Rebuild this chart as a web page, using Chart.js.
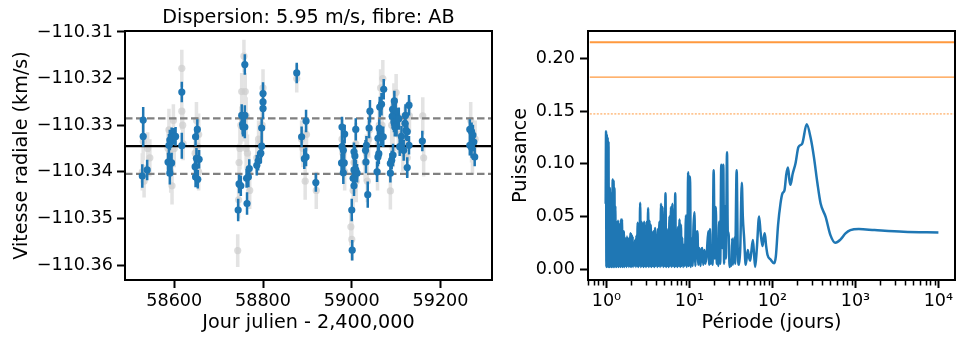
<!DOCTYPE html>
<html lang="fr">
<head>
<meta charset="utf-8">
<script src="https://cdn.jsdelivr.net/npm/chart.js@4.4.1/dist/chart.umd.min.js"></script>
<style>
  body { margin: 0; background: #fff; }
  #wrap { position: relative; width: 958px; height: 338px; font-family: 'DejaVu Sans', sans-serif; }
  #c-vr { position: absolute; left: 0; top: 0; }
  #c-per { position: absolute; left: 500px; top: 0; }
  #titre { position: absolute; left: 125px; width: 367px; top: 5px; text-align: center; font-size: 19.2px; line-height: 24px; color: #000; }
</style>
</head>
<body>
<div id="wrap">
  <canvas id="c-vr" width="500" height="338"></canvas>
  <canvas id="c-per" width="458" height="338"></canvas>
  <div id="titre">Dispersion: 5.95 m/s, fibre: AB</div>
</div>
<script>
// vitesses radiales (fibre AB), jour julien - 2400000
const jours = [
  58530, 58530, 58528, 58539,
  58586, 58590, 58594, 58598, 58588, 58590, 58594, 58590, 58603, 58617, 58617,
  58648, 58652, 58647, 58650, 58656, 58648, 58653,
  58744, 58746, 58750, 58752, 58759, 58755, 58759, 58754, 58759, 58763, 58764, 58767, 58769,
  58786, 58789, 58795, 58797, 58797, 58800, 58800, 58800,
  58876, 58887, 58897, 58897, 58893, 58919,
  58978, 58984, 58978, 58981, 58977, 58983, 58981,
  59000, 59001, 59005, 59007, 59009, 59005, 59009, 59003, 59007, 59005, 59012,
  59031, 59033, 59032, 59036, 59039, 59041,
  59057, 59059, 59061, 59059, 59066, 59071, 59062, 59063, 59067, 59072,
  59087, 59087, 59090, 59093, 59092, 59095, 59099, 59091, 59095, 59101, 59097, 59096,
  59106, 59112, 59108, 59117, 59120, 59122, 59125, 59121, 59125, 59129, 59129,
  59159,
  59266, 59270, 59273, 59275, 59270, 59277, 59266
];
const vitesses = [
  -110.3289, -110.3324, -110.3409, -110.3396,
  -110.3379, -110.3332, -110.3325, -110.3324, -110.3343, -110.3382, -110.3381, -110.3403, -110.3324, -110.3229, -110.3344,
  -110.3325, -110.3309, -110.3389, -110.3371, -110.3373, -110.3411, -110.3416,
  -110.3482, -110.3426, -110.3430, -110.3279, -110.3279, -110.3304, -110.3304, -110.3298, -110.3170, -110.3414, -110.3468, -110.3411, -110.3393,
  -110.3386, -110.3377, -110.3360, -110.3345, -110.3306, -110.3264, -110.3250, -110.3232,
  -110.3188, -110.3325, -110.3291, -110.3368, -110.3372, -110.3423,
  -110.3304, -110.3319, -110.3346, -110.3354, -110.3381, -110.3381, -110.3402,
  -110.3482, -110.3568, -110.3357, -110.3366, -110.3309, -110.3396, -110.3396, -110.3414, -110.3411, -110.3430, -110.3403,
  -110.3354, -110.3343, -110.3379, -110.3449, -110.3306, -110.3270,
  -110.3400, -110.3368, -110.3361, -110.3328, -110.3325, -110.3325, -110.3307, -110.3261, -110.3255, -110.3223,
  -110.3403, -110.3382, -110.3375, -110.3364, -110.3266, -110.3271, -110.3270, -110.3281, -110.3293, -110.3300, -110.3304, -110.3248,
  -110.3286, -110.3324, -110.3346, -110.3354, -110.3296, -110.3311, -110.3314, -110.3279, -110.3391, -110.3257, -110.3343,
  -110.3334,
  -110.3309, -110.3314, -110.3321, -110.3336, -110.3348, -110.3368, -110.3343
];
const erreurs = [
  0.0028, 0.0022, 0.0025, 0.0022,
  0.0020, 0.0022, 0.0020, 0.0018, 0.0024, 0.0020, 0.0022, 0.0024, 0.0020, 0.0022, 0.0028,
  0.0020, 0.0022, 0.0020, 0.0022, 0.0020, 0.0022, 0.0020,
  0.0024, 0.0020, 0.0022, 0.0024, 0.0022, 0.0020, 0.0024, 0.0022, 0.0022, 0.0020, 0.0024, 0.0022, 0.0020,
  0.0022, 0.0020, 0.0022, 0.0024, 0.0020, 0.0022, 0.0020, 0.0024,
  0.0022, 0.0022, 0.0024, 0.0020, 0.0022, 0.0020,
  0.0022, 0.0020, 0.0024, 0.0022, 0.0020, 0.0022, 0.0024,
  0.0024, 0.0022, 0.0020, 0.0022, 0.0024, 0.0020, 0.0022, 0.0020, 0.0024, 0.0022, 0.0020,
  0.0022, 0.0020, 0.0024, 0.0028, 0.0022, 0.0024,
  0.0022, 0.0020, 0.0022, 0.0024, 0.0020, 0.0022, 0.0020, 0.0022, 0.0024, 0.0022,
  0.0020, 0.0022, 0.0020, 0.0024, 0.0022, 0.0020, 0.0022, 0.0020, 0.0022, 0.0024, 0.0020, 0.0022,
  0.0024, 0.0022, 0.0020, 0.0022, 0.0020, 0.0022, 0.0020, 0.0024, 0.0022, 0.0022, 0.0020,
  0.0022,
  0.0022, 0.0020, 0.0022, 0.0020, 0.0022, 0.0020, 0.0022
];

// mesures en gris (arrière-plan)
const joursGris = [
  58530, 58532, 58545, 58588, 58590, 58592, 58595, 58598, 58617, 58617, 58619,
  58650, 58652, 58655, 58743, 58745, 58748, 58752, 58757, 58760, 58762, 58765, 58770,
  58790, 58798, 58800, 58876, 58890, 58895, 58898, 58920,
  58978, 58982, 58998, 59000, 59003, 59007, 59010, 59030, 59035, 59040,
  59058, 59062, 59065, 59070, 59087, 59090, 59095, 59100, 59110, 59120, 59125, 59130,
  59160, 59162, 59268, 59272, 59278,
  58528, 58540, 58586, 58594, 58600, 58620, 58647, 58655, 58746, 58750,
  58755, 58762, 58768, 58786, 58795, 58887, 58980, 58984, 59005, 59009,
  59033, 59038, 59060, 59068, 59093, 59098, 59105, 59115, 59122, 59270
];
const vitessesGris = [
  -110.3335, -110.3420, -110.3370, -110.3310, -110.3360, -110.3400, -110.3430, -110.3290, -110.3178, -110.3270, -110.3300,
  -110.3290, -110.3345, -110.3400, -110.3569, -110.3460, -110.3350, -110.3228, -110.3152, -110.3228, -110.3350, -110.3360, -110.3440,
  -110.3330, -110.3300, -110.3220, -110.3200, -110.3350, -110.3420, -110.3320, -110.3440,
  -110.3330, -110.3380, -110.3518, -110.3545, -110.3440, -110.3380, -110.3420, -110.3380, -110.3420, -110.3310,
  -110.3400, -110.3300, -110.3220, -110.3200, -110.3441, -110.3300, -110.3250, -110.3230, -110.3320, -110.3300, -110.3370, -110.3280,
  -110.3280, -110.3370, -110.3290, -110.3360, -110.3330,
  -110.3400, -110.3350, -110.3350, -110.3380, -110.3350, -110.3340, -110.3360, -110.3320, -110.3380, -110.3300,
  -110.3290, -110.3280, -110.3400, -110.3370, -110.3340, -110.3330, -110.3360, -110.3400, -110.3380, -110.3340,
  -110.3360, -110.3330, -110.3340, -110.3300, -110.3350, -110.3280, -110.3320, -110.3360, -110.3330, -110.3340
];
const erreursGris = [
  0.0040, 0.0035, 0.0040, 0.0045, 0.0040, 0.0045, 0.0040, 0.0035, 0.0040, 0.0040, 0.0035,
  0.0040, 0.0045, 0.0040, 0.0035, 0.0040, 0.0045, 0.0040, 0.0035, 0.0040, 0.0045, 0.0040, 0.0040,
  0.0040, 0.0035, 0.0040, 0.0030, 0.0040, 0.0040, 0.0035, 0.0040,
  0.0045, 0.0040, 0.0040, 0.0045, 0.0040, 0.0040, 0.0045, 0.0040, 0.0045, 0.0040,
  0.0040, 0.0045, 0.0040, 0.0040, 0.0040, 0.0045, 0.0040, 0.0040, 0.0045, 0.0040, 0.0040, 0.0035,
  0.0040, 0.0040, 0.0040, 0.0045, 0.0040,
  0.0040, 0.0035, 0.0045, 0.0040, 0.0040, 0.0035, 0.0040, 0.0045, 0.0040, 0.0040,
  0.0045, 0.0040, 0.0040, 0.0035, 0.0040, 0.0040, 0.0045, 0.0040, 0.0040, 0.0045,
  0.0040, 0.0040, 0.0045, 0.0040, 0.0040, 0.0045, 0.0040, 0.0040, 0.0035, 0.0040
];

const moyenne = -110.3345;
const dispersion = 0.00595;
const ticksJours = [58600, 58800, 59000, 59200];
const ticksVitesse = [-110.36, -110.35, -110.34, -110.33, -110.32, -110.31];

// périodogramme
const periodes = [
  0.98, 0.99, 1.0, 1.01, 1.02, 1.035, 1.05, 1.06, 1.07, 1.08,
  1.09, 1.10, 1.115, 1.13, 1.145, 1.16, 1.175, 1.19, 1.205, 1.22,
  1.235, 1.25, 1.265, 1.28, 1.295, 1.31, 1.325, 1.34, 1.36, 1.38,
  1.40, 1.42, 1.44, 1.46, 1.48, 1.50, 1.52, 1.54, 1.56, 1.58,
  1.60, 1.62, 1.645, 1.67, 1.695, 1.72, 1.745, 1.77, 1.80, 1.83,
  1.86, 1.89, 1.92, 1.95, 1.98, 2.01, 2.04, 2.07, 2.10, 2.14,
  2.18, 2.22, 2.26, 2.30, 2.34, 2.38, 2.42, 2.46, 2.50, 2.55,
  2.60, 2.65, 2.70, 2.75, 2.80, 2.85, 2.90, 2.95, 3.0, 3.06,
  3.12, 3.18, 3.24, 3.30, 3.36, 3.42, 3.48, 3.55, 3.62, 3.70,
  3.78, 3.86, 3.94, 4.02, 4.10, 4.18, 4.26, 4.35, 4.45, 4.55,
  4.65, 4.75, 4.85, 4.95, 5.05, 5.15, 5.25, 5.35, 5.45, 5.55,
  5.65, 5.75, 5.87, 6.0, 6.12, 6.24, 6.36, 6.5, 6.62, 6.75,
  6.88, 7.02, 7.16, 7.3, 7.45, 7.6, 7.75, 7.9, 8.05, 8.2,
  8.4, 8.6, 8.8, 9.1, 9.3, 9.5, 9.65, 9.8, 10.0, 10.2,
  10.4, 10.7, 10.9, 11.2, 11.5, 11.8, 12.1, 12.5, 12.8, 13.2,
  13.6, 14.0, 14.3, 14.7, 15.2, 15.6, 16.2, 16.9, 17.3, 17.7,
  18.1, 18.5, 19.0, 19.6, 20.2, 20.8, 21.3, 21.8, 22.3, 22.8,
  23.5, 24.2, 24.9, 25.6, 26.2, 26.7, 27.5, 28.4, 29.0, 29.6,
  30.5, 31.5, 32.2, 32.8, 33.5, 34.8, 35.5, 37.1, 38.2, 39.5,
  41.0, 42.8, 44.0, 45.6, 47.7, 50.5, 52.0, 53.9, 55.5, 58.2,
  60, 62, 65, 69.1, 72, 75.9, 78, 80.8, 84, 87.4,
  95, 105, 110, 117, 125, 132, 140, 147, 154, 160,
  165, 175, 190, 206, 228, 259, 290, 316, 349, 381,
  438, 500, 574, 660, 760, 870, 1100, 1700, 3800, 10000
];
const puissance = [
  0.062, 0.131, 0.002, 0.128, 0.003, 0.125, 0.002, 0.121, 0.003, 0.078,
  0.002, 0.077, 0.003, 0.072, 0.002, 0.070, 0.003, 0.085, 0.002, 0.084,
  0.003, 0.077, 0.002, 0.060, 0.003, 0.045, 0.002, 0.040, 0.003, 0.046,
  0.002, 0.035, 0.003, 0.043, 0.002, 0.047, 0.003, 0.047, 0.002, 0.033,
  0.003, 0.036, 0.002, 0.030, 0.003, 0.029, 0.002, 0.031, 0.003, 0.028,
  0.002, 0.030, 0.003, 0.034, 0.002, 0.033, 0.003, 0.031, 0.002, 0.025,
  0.003, 0.028, 0.002, 0.032, 0.003, 0.044, 0.002, 0.040, 0.003, 0.063,
  0.002, 0.045, 0.003, 0.043, 0.002, 0.045, 0.003, 0.040, 0.002, 0.045,
  0.003, 0.058, 0.002, 0.046, 0.003, 0.042, 0.002, 0.035, 0.003, 0.036,
  0.002, 0.039, 0.003, 0.030, 0.002, 0.038, 0.003, 0.045, 0.002, 0.062,
  0.003, 0.059, 0.002, 0.050, 0.003, 0.072, 0.002, 0.038, 0.003, 0.036,
  0.002, 0.050, 0.003, 0.059, 0.002, 0.062, 0.003, 0.040, 0.002, 0.072,
  0.003, 0.032, 0.002, 0.040, 0.003, 0.047, 0.002, 0.042, 0.003, 0.030,
  0.002, 0.023, 0.003, 0.051, 0.002, 0.035, 0.092, 0.003, 0.088, 0.082,
  0.002, 0.029, 0.003, 0.040, 0.054, 0.003, 0.030, 0.036, 0.004, 0.020,
  0.003, 0.018, 0.020, 0.004, 0.018, 0.005, 0.015, 0.036, 0.004, 0.038,
  0.005, 0.016, 0.004, 0.094, 0.010, 0.059, 0.005, 0.016, 0.003, 0.045,
  0.005, 0.099, 0.020, 0.099, 0.005, 0.060, 0.010, 0.111, 0.035, 0.035,
  0.002, 0.007, 0.003, 0.029, 0.004, 0.030, 0.005, 0.094, 0.020, 0.004,
  0.020, 0.082, 0.050, 0.030, 0.004, 0.018, 0.012, 0.008, 0.015, 0.0275,
  0.015, 0.002, 0.020, 0.050, 0.035, 0.0218, 0.028, 0.034, 0.022, 0.0133,
  0.009, 0.0054, 0.012, 0.0418, 0.062, 0.0718, 0.075, 0.090, 0.0965, 0.085,
  0.080, 0.090, 0.1006, 0.116, 0.119, 0.1376, 0.124, 0.1066, 0.0813, 0.0623,
  0.0496, 0.0323, 0.025, 0.028, 0.0339, 0.037, 0.038, 0.037, 0.0354, 0.0348
];
const seuils = [0.2155, 0.1823, 0.1474];
const ticksPuissance = [0, 0.05, 0.1, 0.15, 0.2];
const ticksPeriode = [1, 10, 100, 1000, 10000];
const etiquettesPeriode = ['10⁰', '10¹', '10²', '10³', '10⁴'];
const mineursPeriode = [2, 3, 4, 5, 6, 7, 8, 9];

const police = "'DejaVu Sans', sans-serif";
Chart.defaults.font.family = police;
Chart.defaults.color = '#000';

// cadre noir autour de la zone du graphe
const cadre = {
  id: 'cadre',
  afterDatasetsDraw(chart) {
    const { ctx, chartArea: a } = chart;
    ctx.save();
    ctx.strokeStyle = '#000';
    ctx.lineWidth = 2;
    ctx.strokeRect(a.left, a.top, a.right - a.left, a.bottom - a.top);
    ctx.restore();
  }
};

// petites graduations de l'axe log
const ticksMineurs = {
  id: 'ticksMineurs',
  afterDraw(chart) {
    const sx = chart.scales.x;
    const { ctx, chartArea: a } = chart;
    ctx.save();
    ctx.strokeStyle = '#000';
    ctx.lineWidth = 1.5;
    ctx.beginPath();
    [0.1, 1, 10, 100, 1000].forEach(dec => {
      mineursPeriode.forEach(m => {
        const v = m * dec;
        if (v < sx.min || v > sx.max) return;
        const px = Math.round(sx.getPixelForValue(v)) + 0.5;
        ctx.moveTo(px, a.bottom + 1);
        ctx.lineTo(px, a.bottom + 5.5);
      });
    });
    ctx.stroke();
    ctx.restore();
  }
};

function barres(xs, ys, es) {
  const pts = [];
  xs.forEach((x, i) => {
    pts.push({ x, y: ys[i] - es[i] }, { x, y: ys[i] + es[i] }, { x, y: null });
  });
  return pts;
}

function horizontale(x0, x1, y) {
  return [{ x: x0, y }, { x: x1, y }];
}

const grille = { display: true, drawOnChartArea: false, drawTicks: true, tickLength: 8, tickWidth: 2, tickColor: '#000' };

const xMinJ = 58489, xMaxJ = 59316;

new Chart(document.getElementById('c-vr'), {
  type: 'line',
  data: {
    datasets: [
      { data: jours.map((x, i) => ({ x, y: vitesses[i] })), showLine: false, pointRadius: 3.6, pointBackgroundColor: '#1f77b4', pointBorderWidth: 0, order: 0 },
      { data: barres(jours, vitesses, erreurs), borderColor: '#1f77b4', borderWidth: 2.5, pointRadius: 0, spanGaps: false, order: 1 },
      { data: horizontale(xMinJ, xMaxJ, moyenne), borderColor: '#000', borderWidth: 2.2, pointRadius: 0, order: 2 },
      { data: horizontale(xMinJ, xMaxJ, moyenne + dispersion), borderColor: '#808080', borderWidth: 2.2, borderDash: [7.5, 3.5], pointRadius: 0, order: 2 },
      { data: horizontale(xMinJ, xMaxJ, moyenne - dispersion), borderColor: '#808080', borderWidth: 2.2, borderDash: [7.5, 3.5], pointRadius: 0, order: 2 },
      { data: joursGris.map((x, i) => ({ x, y: vitessesGris[i] })), showLine: false, pointRadius: 3.6, pointBackgroundColor: 'rgba(205,205,205,0.7)', pointBorderWidth: 0, order: 3 },
      { data: barres(joursGris, vitessesGris, erreursGris), borderColor: 'rgba(200,200,200,0.5)', borderWidth: 3.5, pointRadius: 0, spanGaps: false, order: 4 }
    ]
  },
  options: {
    responsive: false,
    animation: false,
    layout: { padding: { top: 31, right: 8, left: 0, bottom: 0 } },
    plugins: { legend: { display: false }, tooltip: { enabled: false } },
    scales: {
      x: {
        type: 'linear', min: xMinJ, max: xMaxJ,
        afterBuildTicks: s => { s.ticks = ticksJours.map(v => ({ value: v })); },
        afterFit: s => { s.height = 58; },
        grid: grille,
        border: { display: false },
        ticks: { font: { size: 17.6 }, padding: 3, maxRotation: 0, autoSkip: false, callback: v => String(v) },
        title: { display: true, text: 'Jour julien - 2,400,000', font: { size: 19.2 }, padding: { top: 0, bottom: 3.8 } }
      },
      y: {
        type: 'linear', min: -110.3632, max: -110.3098,
        afterBuildTicks: s => { s.ticks = ticksVitesse.map(v => ({ value: v })); },
        afterFit: s => { s.width = 125; },
        grid: grille,
        border: { display: false },
        ticks: { font: { size: 17.6 }, padding: 4, autoSkip: false, callback: v => v.toFixed(2).replace('-', '\u2212') },
        title: { display: true, text: 'Vitesse radiale (km/s)', font: { size: 19.2 }, padding: { top: 10.5, bottom: 0 } }
      }
    }
  },
  plugins: [cadre]
});

const xMinP = 0.631, xMaxP = 15849;

new Chart(document.getElementById('c-per'), {
  type: 'line',
  data: {
    datasets: [
      { data: periodes.map((x, i) => ({ x, y: puissance[i] })), borderColor: '#1f77b4', borderWidth: 2.5, pointRadius: 0, cubicInterpolationMode: 'monotone', order: 0 },
      { data: horizontale(xMinP, xMaxP, seuils[0]), borderColor: 'rgba(255,127,14,0.8)', borderWidth: 2, pointRadius: 0, order: 1 },
      { data: horizontale(xMinP, xMaxP, seuils[1]), borderColor: 'rgba(255,127,14,0.8)', borderWidth: 1.2, pointRadius: 0, order: 1 },
      { data: horizontale(xMinP, xMaxP, seuils[2]), borderColor: 'rgba(255,127,14,0.8)', borderWidth: 1, borderDash: [2, 1.5], pointRadius: 0, order: 1 }
    ]
  },
  options: {
    responsive: false,
    animation: false,
    layout: { padding: { top: 31, right: 3, left: 0, bottom: 0 } },
    plugins: { legend: { display: false }, tooltip: { enabled: false } },
    scales: {
      x: {
        type: 'logarithmic', min: xMinP, max: xMaxP,
        afterBuildTicks: s => { s.ticks = ticksPeriode.map(v => ({ value: v, major: true })); },
        afterFit: s => { s.height = 58; },
        grid: grille,
        border: { display: false },
        ticks: { font: { size: 17.6 }, padding: 3, maxRotation: 0, autoSkip: false, callback: (v, i) => etiquettesPeriode[i] },
        title: { display: true, text: 'Période (jours)', font: { size: 19.2 }, padding: { top: 0, bottom: 3.8 } }
      },
      y: {
        type: 'linear', min: -0.0104, max: 0.2262,
        afterBuildTicks: s => { s.ticks = ticksPuissance.map(v => ({ value: v })); },
        afterFit: s => { s.width = 88; },
        grid: grille,
        border: { display: false },
        ticks: { font: { size: 17.6 }, padding: 5, autoSkip: false, callback: v => v.toFixed(2) },
        title: { display: true, text: 'Puissance', font: { size: 19.2 }, padding: { top: 9.2, bottom: 0 } }
      }
    }
  },
  plugins: [cadre, ticksMineurs]
});
</script>
</body>
</html>
